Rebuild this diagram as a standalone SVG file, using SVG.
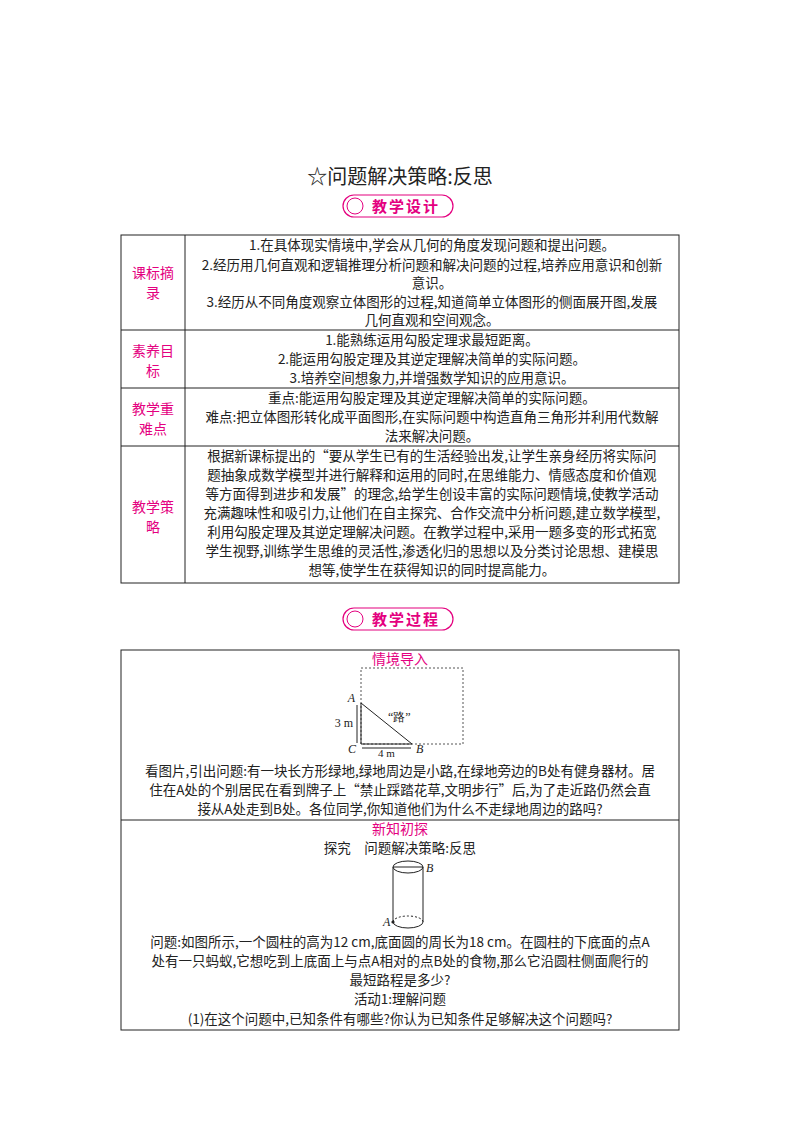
<svg xmlns="http://www.w3.org/2000/svg" width="800" height="1132" viewBox="0 0 800 1132">
<style>
text{font-family:"Noto Sans CJK SC","Noto Sans",sans-serif;font-size:13.5px;fill:#222}
.c{text-anchor:middle}
.lab{fill:#e4007f;font-size:14px;text-anchor:middle}
.ln{stroke:#222;stroke-width:1;fill:none}
.badge{fill:#fff;stroke:#e4007f;stroke-width:1.2}
.bt{fill:#e4007f;font-size:15px;font-weight:bold;letter-spacing:2px}
.it{font-family:"Liberation Serif",serif;font-style:italic;font-size:12px}
.sm{font-family:"Liberation Serif",serif;font-size:12px}
</style>
<rect width="800" height="1132" fill="#fff"/>
<g id="title"><text x="400" y="184" class="c" style="font-size:20px">☆问题解决策略:反思</text></g>
<g id="badge1"><rect x="343" y="195" width="110" height="22" rx="11" class="badge"/><circle cx="355" cy="206" r="8" fill="none" stroke="#e4007f"/><text x="372" y="212" class="bt">教学设计</text></g>
<g id="table1">
<rect x="121" y="235" width="558" height="348" class="ln"/>
<line x1="185" y1="235" x2="185" y2="583" class="ln"/>
<line x1="121" y1="330" x2="679" y2="330" class="ln"/>
<line x1="121" y1="388" x2="679" y2="388" class="ln"/>
<line x1="121" y1="446" x2="679" y2="446" class="ln"/>
<text class="lab" x="153" y="278">课标摘</text><text class="lab" x="153" y="298">录</text>
<text x="432" y="250" class="c">1.在具体现实情境中,学会从几何的角度发现问题和提出问题。</text>
<text x="432" y="270" class="c">2.经历用几何直观和逻辑推理分析问题和解决问题的过程,培养应用意识和创新</text>
<text x="432" y="288" class="c">意识。</text>
<text x="432" y="307" class="c">3.经历从不同角度观察立体图形的过程,知道简单立体图形的侧面展开图,发展</text>
<text x="432" y="325" class="c">几何直观和空间观念。</text>
<text class="lab" x="153" y="356">素养目</text><text class="lab" x="153" y="376">标</text>
<text x="432" y="345" class="c">1.能熟练运用勾股定理求最短距离。</text>
<text x="432" y="364" class="c">2.能运用勾股定理及其逆定理解决简单的实际问题。</text>
<text x="432" y="383" class="c">3.培养空间想象力,并增强数学知识的应用意识。</text>
<text class="lab" x="153" y="414">教学重</text><text class="lab" x="153" y="434">难点</text>
<text x="432" y="403" class="c">重点:能运用勾股定理及其逆定理解决简单的实际问题。</text>
<text x="432" y="422" class="c">难点:把立体图形转化成平面图形,在实际问题中构造直角三角形并利用代数解</text>
<text x="432" y="441" class="c">法来解决问题。</text>
<text class="lab" x="153" y="512">教学策</text><text class="lab" x="153" y="532">略</text>
<text x="432" y="461" class="c">根据新课标提出的“要从学生已有的生活经验出发,让学生亲身经历将实际问</text>
<text x="432" y="480" class="c">题抽象成数学模型并进行解释和运用的同时,在思维能力、情感态度和价值观</text>
<text x="432" y="499" class="c">等方面得到进步和发展”的理念,给学生创设丰富的实际问题情境,使教学活动</text>
<text x="432" y="518" class="c">充满趣味性和吸引力,让他们在自主探究、合作交流中分析问题,建立数学模型,</text>
<text x="432" y="537" class="c">利用勾股定理及其逆定理解决问题。在教学过程中,采用一题多变的形式拓宽</text>
<text x="432" y="556" class="c">学生视野,训练学生思维的灵活性,渗透化归的思想以及分类讨论思想、建模思</text>
<text x="432" y="575" class="c">想等,使学生在获得知识的同时提高能力。</text>
</g>
<g id="badge2"><rect x="343" y="608" width="110" height="22" rx="11" class="badge"/><circle cx="355" cy="619" r="8" fill="none" stroke="#e4007f"/><text x="372" y="625" class="bt">教学过程</text></g>
<g id="table2">
<rect x="121" y="650" width="558" height="380" class="ln"/>
<line x1="121" y1="820" x2="679" y2="820" class="ln"/>
<text class="lab" x="400" y="664">情境导入</text>
<rect x="361" y="668" width="102" height="76" fill="none" stroke="#555" stroke-dasharray="2,2"/>
<line x1="361" y1="703" x2="412" y2="744" class="ln"/>
<line x1="361" y1="703" x2="361" y2="744" class="ln"/>
<line x1="361" y1="744" x2="412" y2="744" class="ln"/>
<line x1="357" y1="705" x2="357" y2="743" class="ln"/><line x1="362" y1="748" x2="411" y2="748" class="ln"/>
<text x="355" y="702" class="it" text-anchor="end">A</text>
<text x="356" y="753" class="it" text-anchor="end">C</text>
<text x="416" y="753" class="it">B</text>
<text x="353" y="727" class="sm" text-anchor="end">3 m</text>
<text x="378" y="757" class="sm" style="font-size:11px">4 m</text>
<text x="388" y="721" class="sm">“路”</text>
<text x="400" y="776" class="c">看图片,引出问题:有一块长方形绿地,绿地周边是小路,在绿地旁边的B处有健身器材。居</text>
<text x="400" y="795" class="c">住在A处的个别居民在看到牌子上“禁止踩踏花草,文明步行”后,为了走近路仍然会直</text>
<text x="400" y="814" class="c">接从A处走到B处。各位同学,你知道他们为什么不走绿地周边的路吗?</text>
<text class="lab" x="400" y="834">新知初探</text>
<text x="400" y="853" class="c">探究　问题解决策略:反思</text>
<ellipse cx="408" cy="867" rx="15" ry="6" class="ln"/>
<line x1="393" y1="867" x2="393" y2="922" class="ln"/><line x1="423" y1="867" x2="423" y2="922" class="ln"/>
<line x1="393" y1="867" x2="423" y2="867" class="ln"/>
<path d="M393 922 A15 6 0 0 0 423 922" class="ln"/>
<path d="M393 922 A15 6 0 0 1 423 922" fill="none" stroke="#222" stroke-dasharray="2,2"/>
<circle cx="393" cy="922" r="1.6" fill="#222"/>
<text x="426" y="872" class="it">B</text>
<text x="383" y="926" class="it">A</text>
<text x="400" y="947" class="c">问题:如图所示,一个圆柱的高为12 cm,底面圆的周长为18 cm。在圆柱的下底面的点A</text>
<text x="400" y="966" class="c">处有一只蚂蚁,它想吃到上底面上与点A相对的点B处的食物,那么它沿圆柱侧面爬行的</text>
<text x="400" y="985" class="c">最短路程是多少?</text>
<text x="400" y="1004" class="c">活动1:理解问题</text>
<text x="400" y="1024" class="c">(1)在这个问题中,已知条件有哪些?你认为已知条件足够解决这个问题吗?</text>
</g>
</svg>
